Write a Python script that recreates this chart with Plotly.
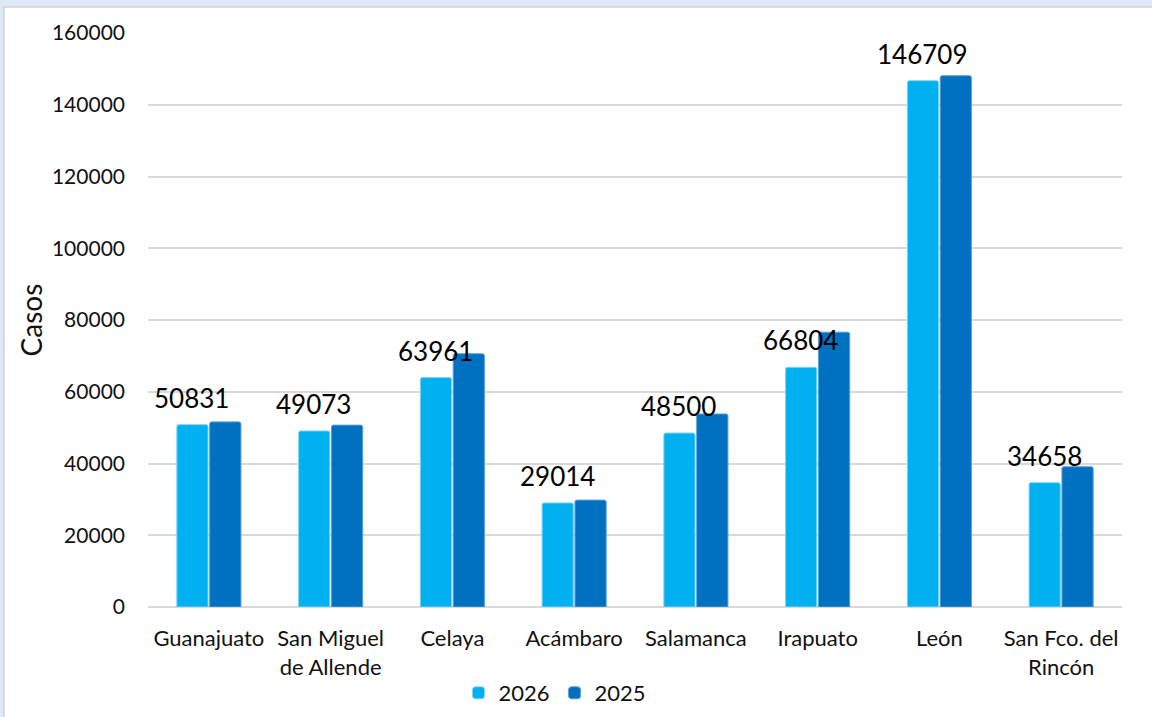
import plotly.graph_objects as go

FONT = 'Lato'
C2026 = '#00B0F0'
C2025 = '#0070C0'

municipios = ['Guanajuato', 'San Miguel<br>de Allende', 'Celaya', 'Acámbaro',
              'Salamanca', 'Irapuato', 'León', 'San Fco. del<br>Rincón']
casos_2026 = [50831, 49073, 63961, 29014, 48500, 66804, 146709, 34658]
casos_2025 = [51600, 50700, 70600, 29800, 53800, 76600, 148100, 39100]
y_ticks = [0, 20000, 40000, 60000, 80000, 100000, 120000, 140000, 160000]

L, R, T, B = 148, 30, 33, 110
W, H = 1152 - L - R, 717 - T - B


def px_x(p):
    return (p - L) / W


def px_y(p):
    return (717 - B - p) / H


fig = go.Figure()
fig.add_trace(go.Bar(x=municipios, y=casos_2026, name='2026',
                     marker=dict(color=C2026, cornerradius=2,
                                 line=dict(color='#7fd6f7', width=1))))
fig.add_trace(go.Bar(x=municipios, y=casos_2025, name='2025',
                     marker=dict(color=C2025, cornerradius=2,
                                 line=dict(color='#5a9fd6', width=1))))

# data labels over the 2026 bars
for m, v in zip(municipios, casos_2026):
    fig.add_annotation(x=m, y=v, text=str(v), showarrow=False,
                       xshift=-17, yshift=9, yanchor='bottom',
                       font=dict(family=FONT, size=26, color='#000000'))

# light blue frame around the white chart area
fig.add_shape(type='rect', xref='paper', yref='paper', layer='below',
              x0=px_x(4), x1=px_x(1200), y0=px_y(760), y1=px_y(7),
              fillcolor='white', line=dict(color='#d4d4d4', width=1.5))

fig.update_layout(
    width=1152, height=717,
    margin=dict(l=L, r=R, t=T, b=B, autoexpand=False),
    paper_bgcolor='#dfe8f6', plot_bgcolor='rgba(0,0,0,0)',
    font=dict(family=FONT, size=21, color='#111111'),
    barmode='group', bargap=0.46, bargroupgap=0.05,
    showlegend=True,
    legend=dict(orientation='h', x=px_x(555), xanchor='center',
                y=px_y(693), yanchor='middle', font=dict(size=22),
                itemwidth=30, tracegroupgap=0, bgcolor='rgba(0,0,0,0)'),
    xaxis=dict(showgrid=False, showline=False, ticks='', automargin=False,
               ticklabelstandoff=16, tickfont=dict(size=22)),
    yaxis=dict(range=[0, 160000], tickvals=y_ticks, automargin=False,
               ticktext=[str(t) for t in y_ticks], showgrid=True,
               gridcolor='#d9d9d9', gridwidth=2, zeroline=True,
               zerolinecolor='#d9d9d9', zerolinewidth=2,
               ticklabelstandoff=22, tickfont=dict(size=21),
               title=dict(text='Casos', font=dict(size=28), standoff=1)),
)

fig.write_html('out.html', config={'displayModeBar': False},
               post_script="document.body.style.margin='0';"
                           "document.body.style.overflow='hidden';")
